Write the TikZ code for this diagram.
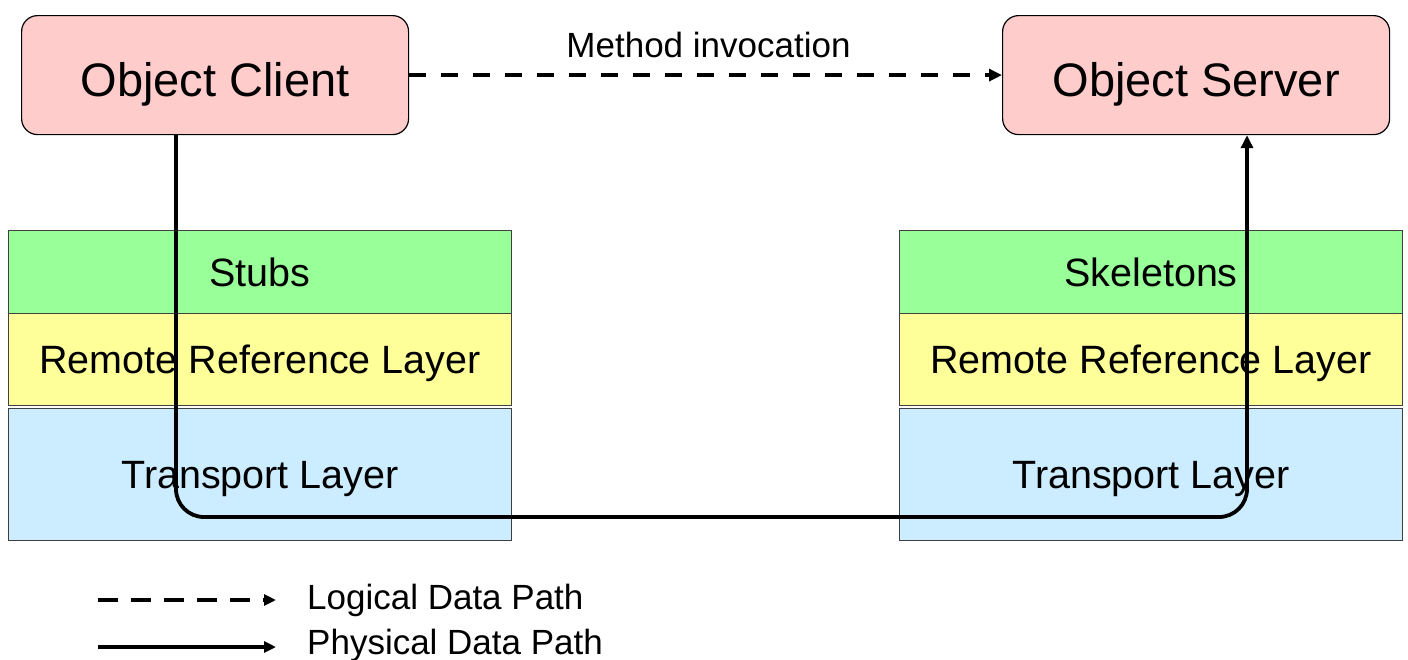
\documentclass[tikz,border=0pt]{standalone}
\usepackage{fontspec}
\setmainfont{Liberation Sans}
\usetikzlibrary{arrows.meta}
\definecolor{pinkfill}{HTML}{FFCCCC}
\definecolor{greenfill}{HTML}{99FF99}
\definecolor{yellowfill}{HTML}{FFFF99}
\definecolor{bluefill}{HTML}{CCECFF}
\definecolor{edgegray}{HTML}{404040}
\begin{document}
\begin{tikzpicture}[x=1pt,y=-1pt,
  objbox/.style={draw=black, line width=1.2pt, fill=pinkfill, rounded corners=16pt,
    minimum width=387pt, minimum height=119pt, inner sep=0pt, anchor=north west,
    font=\fontsize{47}{50}\selectfont, text height=44.6pt, text depth=1.9pt},
  layerbox/.style={draw=edgegray, line width=1pt, minimum width=503pt, inner sep=0pt,
    anchor=north west, font=\fontsize{39.5}{42}\selectfont, text height=28.3pt, text depth=0pt},
  logical/.style={line width=3.8pt, dash pattern=on 17pt off 15pt,
    -{Triangle[length=13pt,width=12pt]}},
  physical/.style={line width=3.8pt, -{Triangle[length=13pt,width=12pt]}},
  lbl/.style={font=\fontsize{35}{38}\selectfont, text height=25.1pt, text depth=0pt, inner sep=0pt}
]
\useasboundingbox (0,0) rectangle (1408,659);

% object boxes
\node[objbox] (oc) at (21,15) {Object Client};
\node[objbox] (os) at (1002,15) {Object Server};

% left stack
\node[layerbox, fill=greenfill, minimum height=83pt] (stubs) at (8,230) {Stubs};
\node[layerbox, fill=yellowfill, minimum height=92pt] (rrlL) at (8,313) {Remote Reference Layer};
\node[layerbox, fill=bluefill, minimum height=132pt] (trL) at (8,408) {Transport Layer};

% right stack
\node[layerbox, fill=greenfill, minimum height=83pt] (skel) at (899,230) {Skeletons};
\node[layerbox, fill=yellowfill, minimum height=92pt] (rrlR) at (899,313) {Remote Reference Layer};
\node[layerbox, fill=bluefill, minimum height=132pt] (trR) at (899,408) {Transport Layer};

% logical path
\draw[logical] (oc.east) -- (os.west);
\node[lbl] (mi) at (708.5,44.5) {Method invocation};

% physical path
\coordinate (cx) at (176,0);
\coordinate (sx) at (1247,0);
\coordinate (by) at (0,517);
\draw[physical, rounded corners=28pt] (cx |- oc.south) -- (cx |- by) -- (sx |- by) -- (sx |- os.south);

% legend
\coordinate (l1a) at (98,600);
\coordinate (l1b) at (276,600);
\coordinate (l2a) at (98,647);
\coordinate (l2b) at (276,647);
\draw[line width=3.8pt, dash pattern=on 20pt off 13pt, -{Triangle[length=12pt,width=11pt]}] (l1a) -- (l1b);
\draw[line width=3.8pt, -{Triangle[length=12pt,width=11pt]}] (l2a) -- (l2b);
\node[lbl, anchor=west] (leg1) at (307,597) {Logical Data Path};
\node[lbl, anchor=west] (leg2) at (307,642) {Physical Data Path};
\end{tikzpicture}
\end{document}
